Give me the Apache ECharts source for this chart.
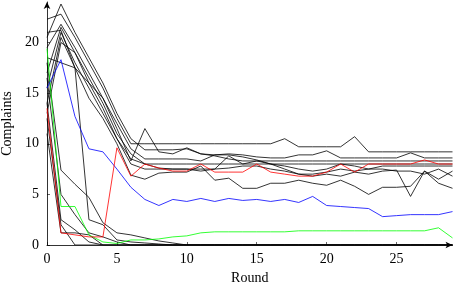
<!DOCTYPE html>
<html>
<head>
<meta charset="utf-8">
<script src="https://cdn.jsdelivr.net/npm/echarts@6/dist/echarts.min.js"></script>
<style>
html, body { margin: 0; padding: 0; background: #fff; }
#chart { width: 454px; height: 283px; }
</style>
</head>
<body>
<div id="chart"></div>
<script>
var rounds = [0,1,2,3,4,5,6,7,8,9,10,11,12,13,14,15,16,17,18,19,20,21,22,23,24,25,26,27,28,29];
var xTicks = [0, 5, 10, 15, 20, 25];
var yTicks = [0, 5, 10, 15, 20];

// black runs that settle on a plateau
var black1 = [22.3,22.8,20.5,18.0,15.5,12.5,10.0,10.0,10.0,10.0,10.0,10.0,10.0,10.0,10.0,10.0,10.0,10.5,9.7,9.7,9.7,9.7,10.7,9.2,9.2,9.2,9.2,9.2,9.2,9.2];
var black2 = [20.5,23.8,21.0,18.5,16.0,13.0,10.5,9.4,9.4,9.4,9.5,9.0,8.9,9.0,8.9,8.7,8.6,8.6,8.9,8.9,9.3,8.6,8.6,8.6,8.6,8.6,9.1,8.6,8.6,8.6];
var black3 = [19.5,21.8,19.5,17.0,14.5,11.5,8.3,11.5,9.2,9.0,9.6,9.0,8.8,8.5,8.3,8.3,8.3,8.3,8.3,8.3,8.3,8.3,8.3,8.3,8.3,8.3,8.3,8.3,8.3,8.3];
var black4 = [17.0,21.5,19.0,16.5,14.0,11.0,9.0,8.0,8.0,8.0,8.0,8.0,8.0,8.0,8.0,8.0,8.0,8.0,8.0,8.0,8.0,8.0,8.0,8.0,8.0,8.0,8.0,8.0,8.0,8.0];
var black5 = [15.5,21.0,18.0,15.5,13.0,10.5,8.5,8.0,7.6,7.5,7.5,7.3,7.5,8.8,8.0,8.3,8.0,7.5,7.0,6.8,7.0,6.8,7.2,7.0,7.3,7.4,4.8,7.3,6.5,7.3];
var black6 = [14.0,20.5,17.5,14.5,12.5,10.0,6.9,6.5,7.1,7.2,7.2,7.8,6.4,6.6,5.6,5.6,6.1,6.1,6.4,6.1,5.9,6.4,5.8,5.0,5.7,5.7,5.8,7.3,6.1,5.6];
var black7 = [18.5,18.0,17.5,16.0,14.5,12.0,9.5,8.5,8.5,8.5,8.5,8.3,8.9,8.9,8.7,8.4,8.0,7.8,7.5,7.3,7.5,8.0,7.8,7.5,7.5,7.3,7.3,7.0,7.5,6.8];
var black8 = [13.0,20.0,19.0,16.0,13.5,10.5,8.0,7.5,7.5,7.5,7.5,7.5,7.5,7.6,7.8,7.8,7.5,7.3,7.0,7.0,7.2,7.5,7.3,7.5,7.8,7.8,7.8,7.8,7.8,7.8];
// black runs that drop to zero
var black9  = [18.0,7.4,6.0,4.7,2.2,1.2,1.0,0.7,0.4,0.2,0,0,0,0,0,0,0,0,0,0,0,0,0,0,0,0,0,0,0,0];
var black10 = [21.0,21.2,17.5,2.5,2.0,0.5,0.3,0.2,0.1,0,0,0,0,0,0,0,0,0,0,0,0,0,0,0,0,0,0,0,0,0];
var black11 = [16.5,5.0,3.0,1.2,0.8,0.3,0,0,0,0,0,0,0,0,0,0,0,0,0,0,0,0,0,0,0,0,0,0,0,0];
var black12 = [14.0,2.5,1.5,0.3,0,0,0,0,0,0,0,0,0,0,0,0,0,0,0,0,0,0,0,0,0,0,0,0,0,0];
var black13 = [12.5,2.0,0,0,0,0,0,0,0,0,0,0,0,0,0,0,0,0,0,0,0,0,0,0,0,0,0,0,0,0];
var black14 = [11.0,1.2,1.2,1.0,0,0,0,0,0,0,0,0,0,0,0,0,0,0,0,0,0,0,0,0,0,0,0,0,0,0];
// coloured runs
var redRun   = [13.5,1.2,1.0,0.8,0.8,9.6,6.8,8.0,7.6,7.3,7.3,8.0,7.2,7.2,7.2,8.0,7.2,7.0,6.8,6.8,7.2,8.0,7.2,8.0,8.0,8.0,8.0,8.4,8.0,8.0];
var blueRun  = [15.5,18.3,12.7,9.5,9.2,7.5,5.7,4.5,3.9,4.5,4.3,4.6,4.3,4.6,4.4,4.5,4.3,4.5,4.2,4.8,3.9,3.8,3.7,3.6,2.8,2.9,3.0,3.0,3.0,3.3];
var greenRun = [19.4,3.8,3.8,1.0,0.3,0.15,0.5,0.5,0.6,0.8,0.9,1.2,1.3,1.3,1.3,1.3,1.3,1.3,1.4,1.4,1.4,1.4,1.4,1.4,1.4,1.4,1.4,1.4,1.7,0.7];

var blackRuns = [black1, black2, black3, black4, black5, black6, black7, black8,
                 black9, black10, black11, black12, black13, black14];

function makeLine(vals, color) {
    return {
        type: 'line',
        data: rounds.map(function (r, i) { return [r, vals[i]]; }),
        symbol: 'none',
        silent: true,
        lineStyle: { color: color, width: 0.8 }
    };
}

var series = blackRuns.map(function (v) { return makeLine(v, '#000'); });
series.push(makeLine(greenRun, '#00ff00'));
series.push(makeLine(blueRun, '#0000ff'));
series.push(makeLine(redRun, '#ff0000'));

var font = 'Liberation Serif';
var myChart = echarts.init(document.getElementById('chart'));
var option = {
    animation: false,
    grid: { left: 47, right: 1.5, top: 2, bottom: 38, outerBoundsMode: 'none' },
    xAxis: {
        type: 'value',
        min: 0, max: 29,
        name: 'Round',
        nameLocation: 'middle',
        nameGap: 26,
        nameTextStyle: { fontFamily: font, fontSize: 14, color: '#000' },
        axisLine: { lineStyle: { color: '#000', width: 0.8 }, symbol: ['none', 'arrow'], symbolSize: [5, 7] },
        axisTick: { inside: true, length: 3, customValues: xTicks, lineStyle: { color: '#000', width: 0.6 } },
        axisLabel: { customValues: xTicks, fontFamily: font, fontSize: 14, color: '#000', margin: 7 },
        splitLine: { show: false }
    },
    yAxis: {
        type: 'value',
        min: 0, max: 24,
        name: 'Complaints',
        nameLocation: 'middle',
        nameGap: 32,
        nameTextStyle: { fontFamily: font, fontSize: 14, color: '#000' },
        axisLine: { lineStyle: { color: '#000', width: 0.8 }, symbol: ['none', 'arrow'], symbolSize: [5, 7] },
        axisTick: { inside: true, length: 3, customValues: yTicks, lineStyle: { color: '#000', width: 0.6 } },
        axisLabel: { customValues: yTicks, fontFamily: font, fontSize: 14, color: '#000', margin: 8 },
        splitLine: { show: false }
    },
    series: series
};
myChart.setOption(option);
</script>
</body>
</html>
